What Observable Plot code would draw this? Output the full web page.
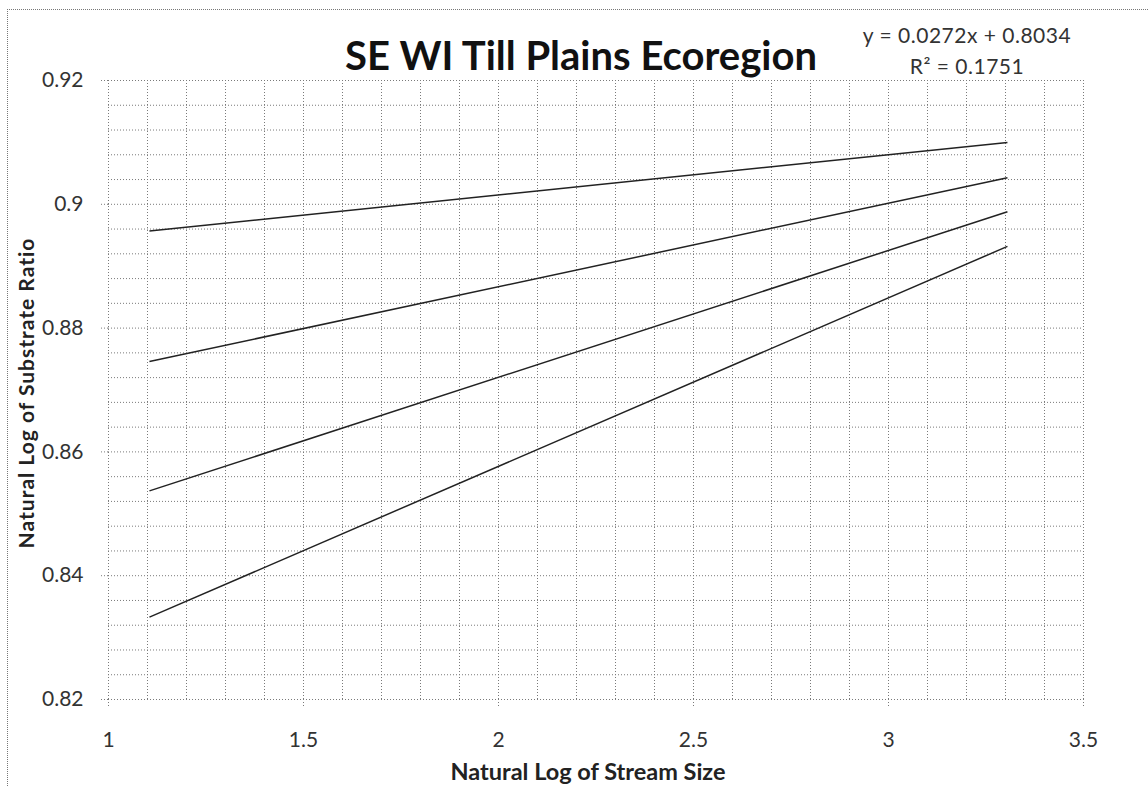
<!DOCTYPE html>
<html>
<head>
<meta charset="utf-8">
<script src="https://cdn.jsdelivr.net/npm/d3@7"></script>
<script src="https://cdn.jsdelivr.net/npm/@observablehq/plot@0.6"></script>
<style>
  html, body { margin: 0; padding: 0; background: #fff; }
  body { position: relative; width: 1148px; height: 787px; overflow: hidden; font-family: Lato, "Open Sans", sans-serif; }
  #chart { position: absolute; left: 0; top: 0; }
  .ovl { position: absolute; white-space: nowrap; line-height: 1; }
  #border { position: absolute; left: 7px; top: 9px; width: 1300px; height: 900px; border-left: 1px dotted #777; border-top: 1px dotted #777; pointer-events: none; }
</style>
</head>
<body>
<div id="chart"></div>
<div id="border"></div>
<div id="title" class="ovl" style="left:581px; top:35px; transform:translateX(-50%); font-size:40px; font-weight:700; color:#111;">SE WI Till Plains Ecoregion</div>
<div id="eq" class="ovl" style="left:967px; top:24px; transform:translateX(-50%); font-size:21px; letter-spacing:0.5px; color:#333;">y = 0.0272x + 0.8034</div>
<div id="r2" class="ovl" style="left:967px; top:55px; transform:translateX(-50%); font-size:21px; letter-spacing:0.5px; color:#333;">R² = 0.1751</div>
<div id="xlabel" class="ovl" style="left:588px; top:772px; transform:translate(-50%,-50%); font-size:23.5px; font-weight:700; color:#222;">Natural Log of Stream Size</div>
<div id="ylabel" class="ovl" style="left:25px; top:393px; transform:translate(-50%,-50%) rotate(-90deg); font-size:21px; letter-spacing:1px; font-weight:700; color:#222;">Natural Log of Substrate Ratio</div>
<script>
// Data
const lineIds = ["A", "B", "C", "D"];
const xStart = 1.105;
const xEnd = 3.305;
const yStartValues = [0.8957, 0.8746, 0.8537, 0.8333];
const yEndValues = [0.9100, 0.9043, 0.8988, 0.8932];

const xTicks = [1, 1.5, 2, 2.5, 3, 3.5];
const xTickLabels = ["1", "1.5", "2", "2.5", "3", "3.5"];
const yTicks = [0.82, 0.84, 0.86, 0.88, 0.9, 0.92];
const yTickLabels = ["0.82", "0.84", "0.86", "0.88", "0.9", "0.92"];

// minor grid positions
const xGrid = d3.range(0, 26).map(i => +(1 + i / 10).toFixed(2));
const yGrid = d3.range(0, 26).map(i => +(0.82 + i * 0.004).toFixed(3));

const segments = lineIds.map((id, i) => ({
  id, x1: xStart, x2: xEnd, y1: yStartValues[i], y2: yEndValues[i]
}));

const gridStyle = { stroke: "#7a7a7a", strokeWidth: 1, strokeDasharray: "1,2" };

const chart = Plot.plot({
  width: 1148,
  height: 787,
  marginLeft: 108,
  marginRight: 65,
  marginTop: 80,
  marginBottom: 88,
  style: { fontFamily: "Lato, 'Open Sans', sans-serif", background: "transparent" },
  x: { domain: [1, 3.5] },
  y: { domain: [0.82, 0.92] },
  marks: [
    Plot.ruleX(xGrid, { x: d => d, ...gridStyle }),
    Plot.ruleY(yGrid, { y: d => d, ...gridStyle }),
    Plot.axisX({
      ticks: xTicks,
      tickFormat: (d) => xTickLabels[xTicks.indexOf(d)],
      tickSize: 7,
      tickPadding: 26,
      fontSize: 21,
      color: "#333",
      stroke: "#7a7a7a",
      strokeDasharray: "1,2",
      label: null
    }),
    Plot.axisY({
      ticks: yTicks,
      tickFormat: (d) => yTickLabels[yTicks.findIndex(t => Math.abs(t - d) < 1e-9)],
      tickSize: 7,
      tickPadding: 18,
      fontSize: 21,
      color: "#333",
      stroke: "#7a7a7a",
      strokeDasharray: "1,2",
      label: null
    }),
    Plot.link(segments, {
      x1: "x1", y1: "y1", x2: "x2", y2: "y2",
      stroke: "#222", strokeWidth: 1.5
    })
  ]
});
document.getElementById("chart").appendChild(chart);
</script>
</body>
</html>
